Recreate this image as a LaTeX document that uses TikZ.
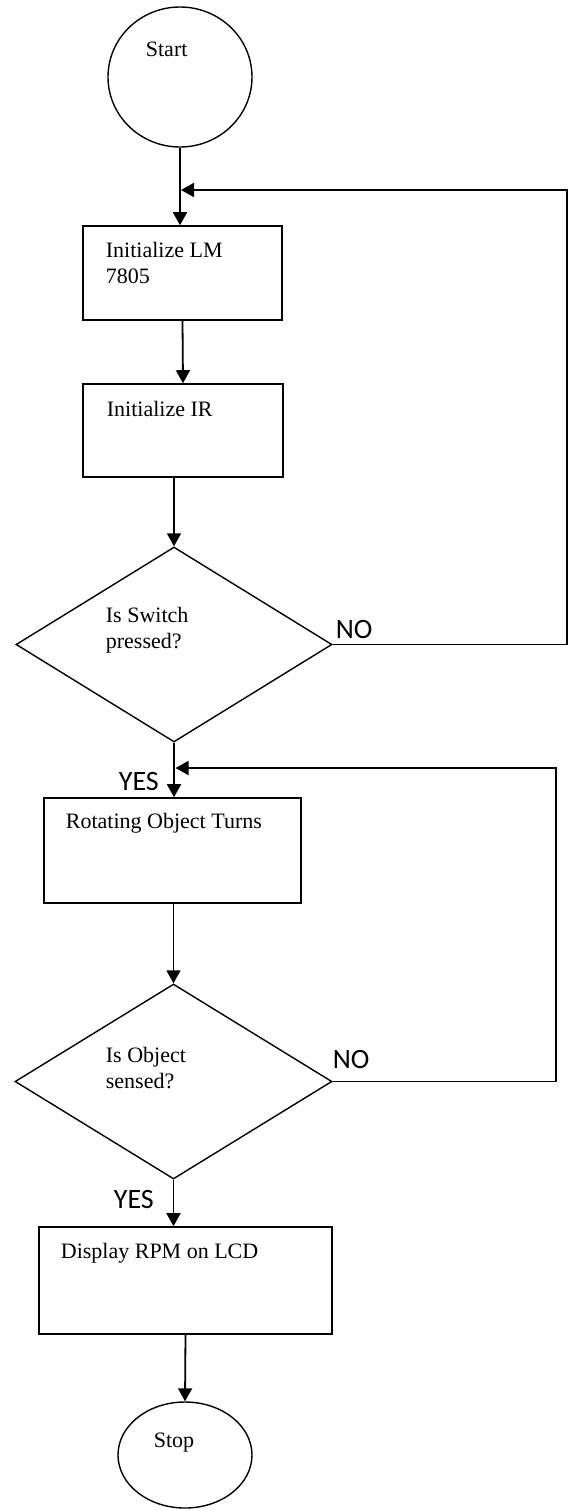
\documentclass[tikz,border=0pt]{standalone}
\usepackage{fontspec}
\setmainfont{Liberation Serif}
\newfontfamily\labelfont{Carlito}
\usetikzlibrary{arrows.meta,shapes.geometric}

\begin{document}
\begin{tikzpicture}[x=0.5pt,y=-0.5pt,->,>={Triangle[length=6.5pt,width=7pt]},
        line width=0.9pt,
        box/.style={rectangle,draw,line width=0.8pt,inner sep=0pt},
        dec/.style={diamond,draw,line width=0.7pt,inner sep=0pt},
        term/.style={ellipse,draw,line width=0.7pt,inner sep=0pt},
        txt/.style={anchor=north west,inner sep=0pt,align=left,
          font=\fontsize{11}{13}\selectfont},
        yesno/.style={anchor=north west,inner sep=0pt,font=\labelfont\fontsize{14}{16}\selectfont}]
      \useasboundingbox (0,0) rectangle (568,1510);

      \node[term,minimum width=72pt,minimum height=70pt] (start) at (180,77) {};
      \node[box,minimum width=99.5pt,minimum height=47pt] (lm) at (182.5,273) {};
      \node[box,minimum width=100pt,minimum height=46.5pt] (ir) at (183,430.5) {};
      \node[dec,minimum width=158pt,minimum height=97.5pt] (sw) at (174,644.5) {};
      \node[box,minimum width=128.5pt,minimum height=52.5pt] (turn) at (172.5,850.5) {};
      \node[dec,minimum width=158.5pt,minimum height=97.5pt] (obj) at (173.5,1081.5) {};
      \node[box,minimum width=146.5pt,minimum height=53.5pt] (lcd) at (185.5,1280.5) {};
      \node[term,minimum width=67pt,minimum height=53pt] (stop) at (185,1455) {};

      % texts
      \node[txt] (startT) at (145,41) {Start};
      \node[txt] (lmT) at (105,241) {Initialize LM\\7805};
      \node[txt] (irT) at (106,400) {Initialize IR};
      \node[txt] (swT) at (105,606) {Is Switch\\pressed?};
      \node[txt] (turnT) at (65,812) {Rotating Object Turns};
      \node[txt] (objT) at (105,1046) {Is Object\\sensed?};
      \node[txt] (lcdT) at (60,1242) {Display RPM on LCD};
      \node[txt] (stopT) at (153,1432) {Stop};
      \node[yesno] (no1) at (335,619) {NO};
      \node[yesno] (yes1) at (118,771) {YES};
      \node[yesno] (no2) at (332,1049) {NO};
      \node[yesno] (yes2) at (113,1189) {YES};

      \coordinate (j1) at (181,190);
      \coordinate (r1) at (567,190);
      \coordinate (j2) at (175.5,768);
      \coordinate (r2) at (556,768);

      \draw (start.south) -- (start.south |- lm.north);
      \draw (lm.south) -- (ir.north);
      \draw (ir.south -| sw.north) -- (sw.north);
      \draw (sw.south) -- (sw.south |- turn.north);
      \draw (turn.south -| obj.north) -- (obj.north);
      \draw (obj.south) -- (obj.south |- lcd.north);
      \draw (lcd.south) -- (stop.north);

      % loops back
      \draw (sw.east) -| (r1) -- (j1);
      \draw (obj.east) -| (r2) -- (j2);
      \end{tikzpicture}
\end{document}
